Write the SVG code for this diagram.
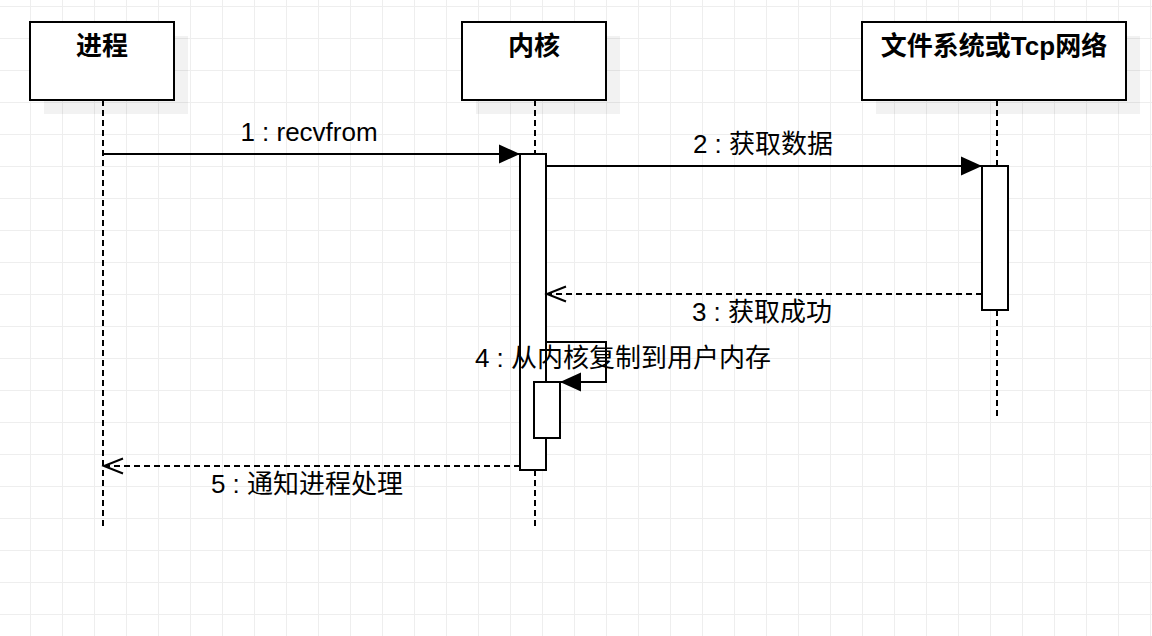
<svg xmlns="http://www.w3.org/2000/svg" width="1152" height="636" viewBox="0 0 1152 636">
  <style>
    .box { fill: #ffffff; stroke: #000000; stroke-width: 2; }
    .shadow { fill: #000000; fill-opacity: 0.05; }
    .title { font-family: "Liberation Sans", "Noto Sans CJK SC", sans-serif; font-size: 26px; font-weight: bold; fill: #000000; text-anchor: middle; }
    .label { font-family: "Liberation Sans", "Noto Sans CJK SC", sans-serif; font-size: 26px; fill: #000000; text-anchor: middle; }
    .lifeline { stroke: #000000; stroke-width: 2; stroke-dasharray: 6 4; fill: none; }
    .act { fill: #ffffff; stroke: #000000; stroke-width: 2; }
    .call { stroke: #000000; stroke-width: 2; fill: none; marker-end: url(#block); }
    .reply { stroke: #000000; stroke-width: 2; stroke-dasharray: 6 4; fill: none; marker-end: url(#open); }
  </style>
  <defs>
    <pattern id="grid" patternUnits="userSpaceOnUse" x="30" y="6" width="32" height="32">
      <rect x="0" y="0" width="1" height="32" fill="#eeeeee"/>
      <rect x="0" y="0" width="32" height="1" fill="#eeeeee"/>
    </pattern>
    <marker id="block" markerUnits="userSpaceOnUse" markerWidth="22" markerHeight="20" refX="21" refY="9.5" orient="auto" overflow="visible">
      <path d="M0,0 L21,9.5 L0,19 Z" fill="#000000"/>
    </marker>
    <marker id="open" markerUnits="userSpaceOnUse" markerWidth="22" markerHeight="18" refX="20" refY="8" orient="auto" overflow="visible">
      <path d="M1,0.5 L20,8 L1,15.5" fill="none" stroke="#000000" stroke-width="2"/>
    </marker>
  </defs>

  <!-- background grid -->
  <rect x="0" y="0" width="1152" height="636" fill="#ffffff"/>
  <rect x="0" y="0" width="1152" height="636" fill="url(#grid)"/>

  <!-- participant: process -->
  <g id="process">
    <rect class="shadow" x="44" y="36" width="144" height="78"/>
    <line class="lifeline" x1="103" y1="100" x2="103" y2="526"/>
    <rect class="box" x="30" y="22" width="144" height="78"/>
    <text class="title" x="102" y="55">进程</text>
  </g>

  <!-- participant: kernel -->
  <g id="kernel">
    <rect class="shadow" x="476" y="36" width="144" height="78"/>
    <line class="lifeline" x1="535" y1="100" x2="535" y2="526"/>
    <rect class="box" x="462" y="22" width="144" height="78"/>
    <text class="title" x="534" y="55">内核</text>
  </g>

  <!-- participant: file system or TCP network -->
  <g id="fs-net">
    <rect class="shadow" x="876" y="36" width="264" height="78"/>
    <line class="lifeline" x1="997" y1="100" x2="997" y2="420"/>
    <rect class="box" x="862" y="22" width="264" height="78"/>
    <text class="title" x="994" y="55">文件系统或Tcp网络</text>
  </g>

  <!-- activation bars -->
  <g id="activations">
    <rect id="act-kernel" class="act" x="520" y="154" width="26" height="316"/>
    <rect id="act-fs" class="act" x="982" y="166" width="26" height="144"/>
  </g>

  <!-- messages -->
  <g id="connectors">
    <line class="call" x1="103" y1="154" x2="520" y2="154"/>
    <line class="call" x1="546" y1="166" x2="982" y2="166"/>
    <line class="reply" x1="982" y1="294" x2="547" y2="294"/>
    <polyline class="call" points="546,342 606,342 606,382 560,382"/>
    <line class="reply" x1="520" y1="466" x2="104" y2="466"/>
  </g>

  <!-- nested activation for the self call -->
  <g id="act-copy">
    <rect class="act" x="534" y="382" width="26" height="56"/>
  </g>

  <!-- message labels -->
  <g id="labels">
    <text class="label" x="309" y="141">1 : recvfrom</text>
    <text class="label" x="763" y="153">2 : 获取数据</text>
    <text class="label" x="762" y="321">3 : 获取成功</text>
    <text class="label" x="623" y="367">4 : 从内核复制到用户内存</text>
    <text class="label" x="307" y="493">5 : 通知进程处理</text>
  </g>
</svg>
